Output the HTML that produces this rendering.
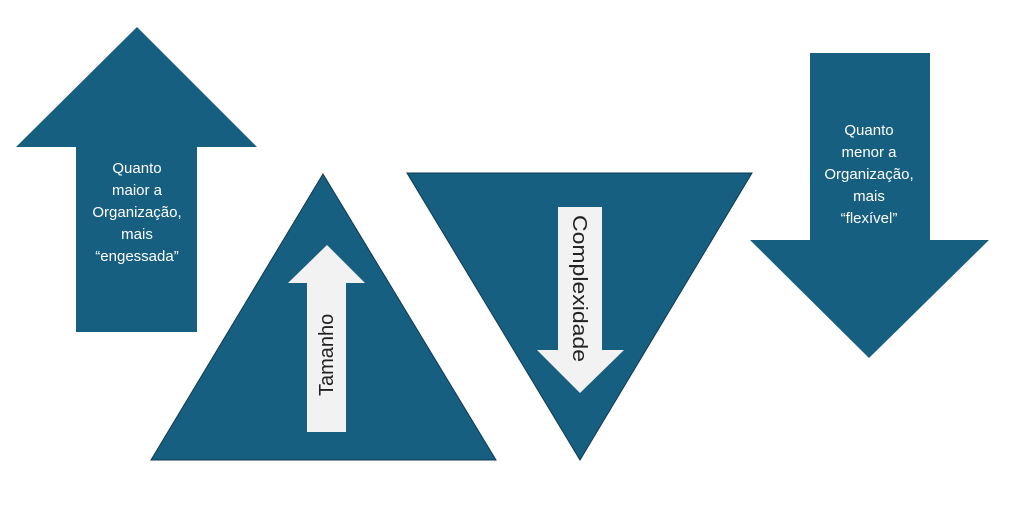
<!DOCTYPE html>
<html><head><meta charset="utf-8"><style>
html,body{margin:0;padding:0;background:#fff;width:1024px;height:506px;overflow:hidden}
svg{display:block}
text{font-family:"Liberation Sans",sans-serif}
</style></head><body>
<svg width="1024" height="506" viewBox="0 0 1024 506">
<g fill="#175f80" stroke="#0e3a50" stroke-width="1">
<polygon points="137,27 257,147 197,147 197,332 76,332 76,147 16,147" stroke="none"/>
<polygon points="323,174 496,460 151,460"/>
<polygon points="407,173 752,173 580,460"/>
<polygon points="810,53 930,53 930,240 989,240 869,358 750,240 810,240" stroke="none"/>
</g>
<g fill="#f2f2f2">
<polygon points="327,245 365,283 346,283 346,432 307,432 307,283 288,283"/>
<polygon points="558,207 602,207 602,350 624,350 580,393 537,350 558,350"/>
</g>
<g fill="#fff" font-size="15" text-anchor="middle">
<text x="137" y="173">Quanto</text>
<text x="137" y="195">maior a</text>
<text x="137" y="217">Organização,</text>
<text x="137" y="239">mais</text>
<text x="137" y="261">“engessada”</text>
<text x="869" y="135">Quanto</text>
<text x="869" y="157">menor a</text>
<text x="869" y="179">Organização,</text>
<text x="869" y="201">mais</text>
<text x="869" y="223">“flexível”</text>
</g>
<g fill="#222" font-size="20">
<text transform="translate(333,396) rotate(-90)">Tamanho</text>
<text transform="translate(573,215) rotate(90)" textLength="147" lengthAdjust="spacingAndGlyphs">Complexidade</text>
</g>
</svg>
</body></html>
